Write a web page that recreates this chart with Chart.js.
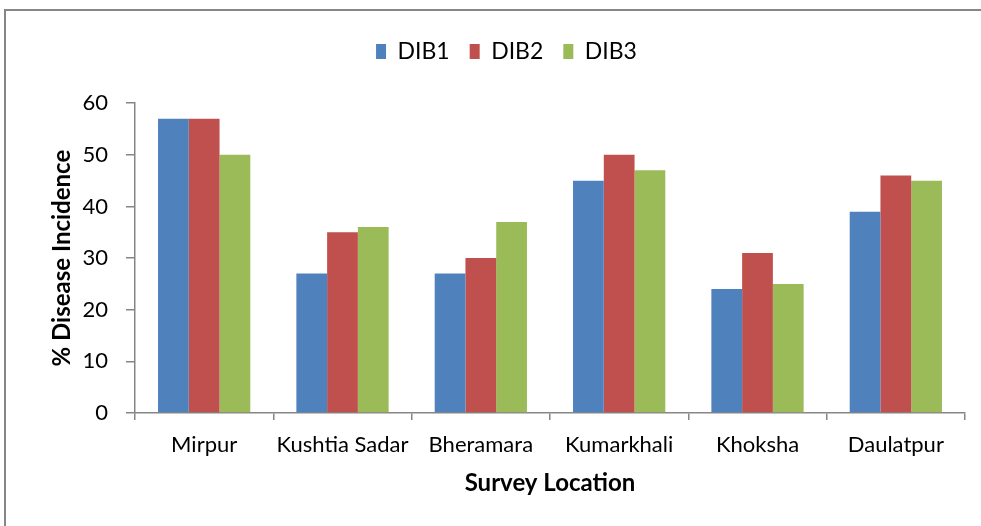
<!DOCTYPE html>
<html lang="en">
<head>
    <meta charset="UTF-8">
    <title>Disease Incidence</title>
    <style>
        html, body { margin: 0; padding: 0; background: #fff; overflow: hidden; }
        #caja { position: relative; width: 981px; height: 526px; }
    </style>
</head>
<body>
    <div id="caja">
        <canvas id="grafico"></canvas>
    </div>

    <script src="https://cdn.jsdelivr.net/npm/chart.js"></script>
    <script>
        // datos
        const ubicaciones = ["Mirpur", "Kushtia Sadar", "Bheramara", "Kumarkhali", "Khoksha", "Daulatpur"]
        const dib1 = [57, 27, 27, 45, 24, 39]
        const dib2 = [57, 35, 30, 50, 31, 46]
        const dib3 = [50, 36, 37, 47, 25, 45]
        const marcasY = [0, 10, 20, 30, 40, 50, 60]

        const gris = "#868686"
        const fuente = "Lato"

        // marco exterior del grafico (solo se ven arriba e izquierda)
        const marco = {
            id: "marco",
            beforeDraw(chart) {
                const ctx = chart.ctx
                ctx.save()
                ctx.fillStyle = "#fff"
                ctx.fillRect(0, 0, chart.width, chart.height)
                ctx.strokeStyle = gris
                ctx.lineWidth = 2
                ctx.beginPath()
                ctx.moveTo(5, chart.height)
                ctx.lineTo(5, 10)
                ctx.lineTo(chart.width, 10)
                ctx.stroke()
                ctx.restore()
            }
        }

        new Chart(document.querySelector("#grafico"), {
            type: "bar",
            data: {
                labels: ubicaciones,
                datasets: [
                    { label: "DIB1", data: dib1, backgroundColor: "#4F81BD" },
                    { label: "DIB2", data: dib2, backgroundColor: "#C0504D" },
                    { label: "DIB3", data: dib3, backgroundColor: "#9BBB59" }
                ]
            },
            options: {
                responsive: true,
                maintainAspectRatio: false,
                animation: false,
                layout: { padding: { top: 20, right: 16, left: 48, bottom: 0 } },
                datasets: {
                    bar: { categoryPercentage: 0.667, barPercentage: 1, borderWidth: 0 }
                },
                plugins: {
                    legend: {
                        position: "top",
                        labels: {
                            boxWidth: 10,
                            boxHeight: 15,
                            padding: 20,
                            color: "#000",
                            font: { family: fuente, size: 23 }
                        }
                    },
                    // espacio vacio entre leyenda y area del grafico
                    subtitle: {
                        display: true,
                        text: "",
                        weight: 500,
                        font: { size: 1 },
                        padding: { top: 0, bottom: 29 }
                    },
                    tooltip: { enabled: false }
                },
                scales: {
                    x: {
                        grid: { display: true, drawOnChartArea: false, drawTicks: true, tickLength: 7, color: gris, lineWidth: 1.5, offset: true },
                        border: { color: gris, width: 1.5 },
                        ticks: { color: "#000", padding: 12, font: { family: fuente, size: 22 } },
                        title: {
                            display: true,
                            text: "Survey Location",
                            color: "#000",
                            font: { family: fuente, size: 24, weight: "bold" },
                            padding: { top: 0, bottom: 28 }
                        },
                        afterFit(escala) { escala.height = 113 }
                    },
                    y: {
                        min: 0,
                        max: 60,
                        afterBuildTicks(escala) { escala.ticks = marcasY.map(v => ({ value: v })) },
                        grid: { display: true, drawOnChartArea: false, drawTicks: true, tickLength: 9, color: gris, lineWidth: 1.5 },
                        border: { color: gris, width: 1.5 },
                        ticks: { color: "#000", padding: 18, font: { family: fuente, size: 22 } },
                        title: {
                            display: true,
                            text: "% Disease Incidence",
                            color: "#000",
                            font: { family: fuente, size: 24, weight: "bold" },
                            padding: { top: 0, bottom: 0 }
                        },
                        afterFit(escala) { escala.width = 87 }
                    }
                }
            },
            plugins: [marco]
        })
    </script>
</body>
</html>
